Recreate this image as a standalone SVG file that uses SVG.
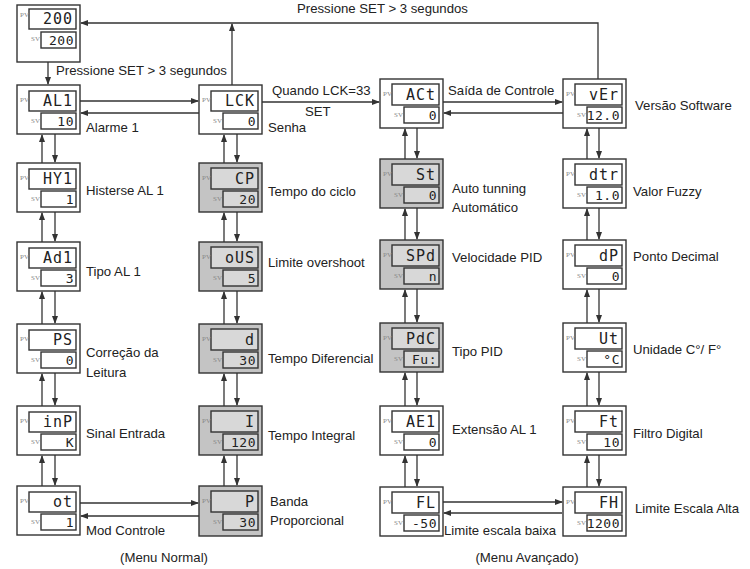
<svg xmlns="http://www.w3.org/2000/svg" width="750" height="569" viewBox="0 0 750 569">
<defs>
<style>
.box{fill:#fff;stroke:#333;stroke-width:1.4}
.gray .box{fill:#c4c4c4}
.disp{fill:#fff;stroke:#333;stroke-width:1.4}
.gray .disp{fill:#d8d8d8}
.tag{font-family:"Liberation Serif",serif;font-size:7px;fill:#888}
.seg{font-family:"DejaVu Sans Mono",monospace;font-size:15px;fill:#222;text-anchor:end;letter-spacing:1px}
.segs{font-family:"DejaVu Sans Mono",monospace;font-size:13px;fill:#222;text-anchor:end;letter-spacing:0.5px}
.t{font-family:"Liberation Sans",Arial,sans-serif;font-size:13.2px;fill:#222}
.tc{font-family:"Liberation Sans",Arial,sans-serif;font-size:13.2px;fill:#222;text-anchor:middle}
.c{fill:none;stroke:#333;stroke-width:1.3}
</style>
<marker id="ah" markerWidth="8" markerHeight="6" refX="7" refY="3" orient="auto" markerUnits="userSpaceOnUse">
<path d="M0,0 L8,3 L0,6 z" fill="#333"/>
</marker>
</defs>
<rect width="750" height="569" fill="#fff"/>

<g id="connectors">
<path class="c" d="M48 62 V84" marker-end="url(#ah)"/>
<path class="c" d="M598 79 V23 H81" marker-end="url(#ah)"/>
<path class="c" d="M232 85 V24" marker-end="url(#ah)"/>
<path class="c" d="M80 101 H198" marker-end="url(#ah)"/>
<path class="c" d="M199 113 H81" marker-end="url(#ah)"/>
<path class="c" d="M262 102 H379" marker-end="url(#ah)"/>
<path class="c" d="M443 102 H562" marker-end="url(#ah)"/>
<path class="c" d="M563 113 H444" marker-end="url(#ah)"/>
<path class="c" d="M80 503 H198" marker-end="url(#ah)"/>
<path class="c" d="M199 516 H81" marker-end="url(#ah)"/>
<path class="c" d="M443 502 H562" marker-end="url(#ah)"/>
<path class="c" d="M562 513 H444" marker-end="url(#ah)"/>
<path class="c" d="M42 163 V135" marker-end="url(#ah)"/><path class="c" d="M55 134 V162" marker-end="url(#ah)"/>
<path class="c" d="M42 242 V213" marker-end="url(#ah)"/><path class="c" d="M55 212 V241" marker-end="url(#ah)"/>
<path class="c" d="M42 324 V292" marker-end="url(#ah)"/><path class="c" d="M55 291 V323" marker-end="url(#ah)"/>
<path class="c" d="M42 406 V374" marker-end="url(#ah)"/><path class="c" d="M55 373 V405" marker-end="url(#ah)"/>
<path class="c" d="M42 486 V456" marker-end="url(#ah)"/><path class="c" d="M55 455 V485" marker-end="url(#ah)"/>
<path class="c" d="M224 163 V135" marker-end="url(#ah)"/><path class="c" d="M237 134 V162" marker-end="url(#ah)"/>
<path class="c" d="M224 242 V213" marker-end="url(#ah)"/><path class="c" d="M237 212 V241" marker-end="url(#ah)"/>
<path class="c" d="M224 324 V292" marker-end="url(#ah)"/><path class="c" d="M237 291 V323" marker-end="url(#ah)"/>
<path class="c" d="M224 406 V374" marker-end="url(#ah)"/><path class="c" d="M237 373 V405" marker-end="url(#ah)"/>
<path class="c" d="M224 486 V456" marker-end="url(#ah)"/><path class="c" d="M237 455 V485" marker-end="url(#ah)"/>
<path class="c" d="M405 159 V129" marker-end="url(#ah)"/><path class="c" d="M417 128 V158" marker-end="url(#ah)"/>
<path class="c" d="M405 240 V209" marker-end="url(#ah)"/><path class="c" d="M417 208 V239" marker-end="url(#ah)"/>
<path class="c" d="M405 323 V290" marker-end="url(#ah)"/><path class="c" d="M417 289 V322" marker-end="url(#ah)"/>
<path class="c" d="M405 406 V373" marker-end="url(#ah)"/><path class="c" d="M417 372 V405" marker-end="url(#ah)"/>
<path class="c" d="M405 487 V456" marker-end="url(#ah)"/><path class="c" d="M417 455 V486" marker-end="url(#ah)"/>
<path class="c" d="M587 159 V129" marker-end="url(#ah)"/><path class="c" d="M599 128 V158" marker-end="url(#ah)"/>
<path class="c" d="M587 240 V209" marker-end="url(#ah)"/><path class="c" d="M599 208 V239" marker-end="url(#ah)"/>
<path class="c" d="M587 323 V290" marker-end="url(#ah)"/><path class="c" d="M599 289 V322" marker-end="url(#ah)"/>
<path class="c" d="M587 406 V373" marker-end="url(#ah)"/><path class="c" d="M599 372 V405" marker-end="url(#ah)"/>
<path class="c" d="M587 487 V456" marker-end="url(#ah)"/><path class="c" d="M599 455 V486" marker-end="url(#ah)"/>
</g>

<g id="n-top" transform="translate(17,5)">
<rect class="box" width="63" height="57"/>
<rect class="disp" x="12" y="4" width="47" height="20"/><rect class="disp" x="24" y="27" width="35" height="16"/>
<text class="tag" x="3" y="12">PV</text><text class="tag" x="14" y="36">SV</text>
<text class="seg" x="56" y="19">200</text><text class="segs" x="57" y="40">200</text>
</g>

<g id="n-AL1" transform="translate(17,85)">
<rect class="box" width="63" height="49"/>
<rect class="disp" x="12" y="6" width="47" height="20"/><rect class="disp" x="24" y="28" width="35" height="16"/>
<text class="tag" x="3" y="17">PV</text><text class="tag" x="14" y="38">SV</text>
<text class="seg" x="56" y="21">AL1</text><text class="segs" x="57" y="41">10</text>
</g>
<g id="n-HY1" transform="translate(17,163)">
<rect class="box" width="63" height="49"/>
<rect class="disp" x="12" y="6" width="47" height="20"/><rect class="disp" x="24" y="28" width="35" height="16"/>
<text class="tag" x="3" y="17">PV</text><text class="tag" x="14" y="38">SV</text>
<text class="seg" x="56" y="21">HY1</text><text class="segs" x="57" y="41">1</text>
</g>
<g id="n-Ad1" transform="translate(17,242)">
<rect class="box" width="63" height="49"/>
<rect class="disp" x="12" y="6" width="47" height="20"/><rect class="disp" x="24" y="28" width="35" height="16"/>
<text class="tag" x="3" y="17">PV</text><text class="tag" x="14" y="38">SV</text>
<text class="seg" x="56" y="21">Ad1</text><text class="segs" x="57" y="41">3</text>
</g>
<g id="n-PS" transform="translate(17,324)">
<rect class="box" width="63" height="49"/>
<rect class="disp" x="12" y="6" width="47" height="20"/><rect class="disp" x="24" y="28" width="35" height="16"/>
<text class="tag" x="3" y="17">PV</text><text class="tag" x="14" y="38">SV</text>
<text class="seg" x="56" y="21">PS</text><text class="segs" x="57" y="41">0</text>
</g>
<g id="n-inP" transform="translate(17,406)">
<rect class="box" width="63" height="49"/>
<rect class="disp" x="12" y="6" width="47" height="20"/><rect class="disp" x="24" y="28" width="35" height="16"/>
<text class="tag" x="3" y="17">PV</text><text class="tag" x="14" y="38">SV</text>
<text class="seg" x="56" y="21">inP</text><text class="segs" x="57" y="41">K</text>
</g>
<g id="n-ot" transform="translate(17,486)">
<rect class="box" width="63" height="49"/>
<rect class="disp" x="12" y="6" width="47" height="20"/><rect class="disp" x="24" y="28" width="35" height="16"/>
<text class="tag" x="3" y="17">PV</text><text class="tag" x="14" y="38">SV</text>
<text class="seg" x="56" y="21">ot</text><text class="segs" x="57" y="41">1</text>
</g>

<g id="n-LCK" transform="translate(199,85)">
<rect class="box" width="63" height="49"/>
<rect class="disp" x="12" y="6" width="47" height="20"/><rect class="disp" x="24" y="28" width="35" height="16"/>
<text class="tag" x="3" y="17">PV</text><text class="tag" x="14" y="38">SV</text>
<text class="seg" x="56" y="21">LCK</text><text class="segs" x="57" y="41">0</text>
</g>
<g id="n-CP" class="gray" transform="translate(199,163)">
<rect class="box" width="63" height="49"/>
<rect class="disp" x="12" y="5" width="47" height="21"/><rect class="disp" x="24" y="28" width="35" height="16"/>
<text class="tag" x="3" y="17">PV</text><text class="tag" x="14" y="38">SV</text>
<text class="seg" x="56" y="21">CP</text><text class="segs" x="57" y="41">20</text>
</g>
<g id="n-oUS" class="gray" transform="translate(199,242)">
<rect class="box" width="63" height="49"/>
<rect class="disp" x="12" y="5" width="47" height="21"/><rect class="disp" x="24" y="28" width="35" height="16"/>
<text class="tag" x="3" y="17">PV</text><text class="tag" x="14" y="38">SV</text>
<text class="seg" x="56" y="21">oUS</text><text class="segs" x="57" y="41">5</text>
</g>
<g id="n-d" class="gray" transform="translate(199,324)">
<rect class="box" width="63" height="49"/>
<rect class="disp" x="12" y="5" width="47" height="21"/><rect class="disp" x="24" y="28" width="35" height="16"/>
<text class="tag" x="3" y="17">PV</text><text class="tag" x="14" y="38">SV</text>
<text class="seg" x="56" y="21">d</text><text class="segs" x="57" y="41">30</text>
</g>
<g id="n-I" class="gray" transform="translate(199,406)">
<rect class="box" width="63" height="49"/>
<rect class="disp" x="12" y="5" width="47" height="21"/><rect class="disp" x="24" y="28" width="35" height="16"/>
<text class="tag" x="3" y="17">PV</text><text class="tag" x="14" y="38">SV</text>
<text class="seg" x="56" y="21">I</text><text class="segs" x="57" y="41">120</text>
</g>
<g id="n-P" class="gray" transform="translate(199,486)">
<rect class="box" width="63" height="50"/>
<rect class="disp" x="12" y="5" width="47" height="21"/><rect class="disp" x="24" y="28" width="35" height="16"/>
<text class="tag" x="3" y="17">PV</text><text class="tag" x="14" y="38">SV</text>
<text class="seg" x="56" y="21">P</text><text class="segs" x="57" y="41">30</text>
</g>

<g id="n-ACt" transform="translate(380,79)">
<rect class="box" width="63" height="49"/>
<rect class="disp" x="12" y="5" width="47" height="21"/><rect class="disp" x="24" y="28" width="35" height="16"/>
<text class="tag" x="3" y="17">PV</text><text class="tag" x="14" y="38">SV</text>
<text class="seg" x="56" y="21">ACt</text><text class="segs" x="57" y="41">0</text>
</g>
<g id="n-St" class="gray" transform="translate(380,159)">
<rect class="box" width="63" height="49"/>
<rect class="disp" x="12" y="5" width="47" height="21"/><rect class="disp" x="24" y="28" width="35" height="16"/>
<text class="tag" x="3" y="17">PV</text><text class="tag" x="14" y="38">SV</text>
<text class="seg" x="56" y="21">St</text><text class="segs" x="57" y="41">0</text>
</g>
<g id="n-SPd" class="gray" transform="translate(380,240)">
<rect class="box" width="63" height="49"/>
<rect class="disp" x="12" y="5" width="47" height="21"/><rect class="disp" x="24" y="28" width="35" height="16"/>
<text class="tag" x="3" y="17">PV</text><text class="tag" x="14" y="38">SV</text>
<text class="seg" x="56" y="21">SPd</text><text class="segs" x="57" y="41">n</text>
</g>
<g id="n-PdC" class="gray" transform="translate(380,323)">
<rect class="box" width="63" height="49"/>
<rect class="disp" x="12" y="5" width="47" height="21"/><rect class="disp" x="24" y="28" width="35" height="16"/>
<text class="tag" x="3" y="17">PV</text><text class="tag" x="14" y="38">SV</text>
<text class="seg" x="56" y="21">PdC</text><text class="segs" x="57" y="41">Fu:</text>
</g>
<g id="n-AE1" transform="translate(380,406)">
<rect class="box" width="63" height="49"/>
<rect class="disp" x="12" y="5" width="47" height="21"/><rect class="disp" x="24" y="28" width="35" height="16"/>
<text class="tag" x="3" y="17">PV</text><text class="tag" x="14" y="38">SV</text>
<text class="seg" x="56" y="21">AE1</text><text class="segs" x="57" y="41">0</text>
</g>
<g id="n-FL" transform="translate(380,487)">
<rect class="box" width="63" height="49"/>
<rect class="disp" x="12" y="5" width="47" height="21"/><rect class="disp" x="24" y="28" width="35" height="16"/>
<text class="tag" x="3" y="17">PV</text><text class="tag" x="14" y="38">SV</text>
<text class="seg" x="56" y="21">FL</text><text class="segs" x="57" y="41">-50</text>
</g>

<g id="n-vEr" transform="translate(563,79)">
<rect class="box" width="63" height="49"/>
<rect class="disp" x="12" y="5" width="47" height="21"/><rect class="disp" x="24" y="28" width="35" height="16"/>
<text class="tag" x="3" y="17">PV</text><text class="tag" x="14" y="38">SV</text>
<text class="seg" x="56" y="21">vEr</text><text class="segs" x="57" y="41">12.0</text>
</g>
<g id="n-dtr" transform="translate(563,159)">
<rect class="box" width="63" height="49"/>
<rect class="disp" x="12" y="5" width="47" height="21"/><rect class="disp" x="24" y="28" width="35" height="16"/>
<text class="tag" x="3" y="17">PV</text><text class="tag" x="14" y="38">SV</text>
<text class="seg" x="56" y="21">dtr</text><text class="segs" x="57" y="41">1.0</text>
</g>
<g id="n-dP" transform="translate(563,240)">
<rect class="box" width="63" height="49"/>
<rect class="disp" x="12" y="5" width="47" height="21"/><rect class="disp" x="24" y="28" width="35" height="16"/>
<text class="tag" x="3" y="17">PV</text><text class="tag" x="14" y="38">SV</text>
<text class="seg" x="56" y="21">dP</text><text class="segs" x="57" y="41">0</text>
</g>
<g id="n-Ut" transform="translate(563,323)">
<rect class="box" width="63" height="49"/>
<rect class="disp" x="12" y="5" width="47" height="21"/><rect class="disp" x="24" y="28" width="35" height="16"/>
<text class="tag" x="3" y="17">PV</text><text class="tag" x="14" y="38">SV</text>
<text class="seg" x="56" y="21">Ut</text><text class="segs" x="57" y="41">°C</text>
</g>
<g id="n-Ft" transform="translate(563,406)">
<rect class="box" width="63" height="49"/>
<rect class="disp" x="12" y="5" width="47" height="21"/><rect class="disp" x="24" y="28" width="35" height="16"/>
<text class="tag" x="3" y="17">PV</text><text class="tag" x="14" y="38">SV</text>
<text class="seg" x="56" y="21">Ft</text><text class="segs" x="57" y="41">10</text>
</g>
<g id="n-FH" transform="translate(563,487)">
<rect class="box" width="63" height="49"/>
<rect class="disp" x="12" y="5" width="47" height="21"/><rect class="disp" x="24" y="28" width="35" height="16"/>
<text class="tag" x="3" y="17">PV</text><text class="tag" x="14" y="38">SV</text>
<text class="seg" x="56" y="21">FH</text><text class="segs" x="57" y="41">1200</text>
</g>

<g id="labels">
<text class="t" x="297" y="13">Pressione SET &gt; 3 segundos</text>
<text class="t" x="56" y="75">Pressione SET &gt; 3 segundos</text>
<text class="t" x="272" y="95">Quando LCK=33</text>
<text class="t" x="305" y="116">SET</text>
<text class="t" x="448" y="95">Saída de Controle</text>
<text class="t" x="635" y="110">Versão Software</text>
<text class="t" x="86" y="132">Alarme 1</text>
<text class="t" x="268" y="132">Senha</text>
<text class="t" x="86" y="195">Histerse AL 1</text>
<text class="t" x="268" y="196">Tempo do ciclo</text>
<text class="t" x="452" y="193">Auto tunning</text>
<text class="t" x="452" y="212">Automático</text>
<text class="t" x="633" y="196">Valor Fuzzy</text>
<text class="t" x="86" y="276">Tipo AL 1</text>
<text class="t" x="268" y="267">Limite overshoot</text>
<text class="t" x="452" y="262">Velocidade PID</text>
<text class="t" x="633" y="261">Ponto Decimal</text>
<text class="t" x="86" y="357">Correção da</text>
<text class="t" x="86" y="377">Leitura</text>
<text class="t" x="268" y="363">Tempo Diferencial</text>
<text class="t" x="452" y="356">Tipo PID</text>
<text class="t" x="633" y="354">Unidade C°/ F°</text>
<text class="t" x="86" y="438">Sinal Entrada</text>
<text class="t" x="268" y="440">Tempo Integral</text>
<text class="t" x="452" y="434">Extensão AL 1</text>
<text class="t" x="633" y="438">Filtro Digital</text>
<text class="t" x="86" y="535">Mod Controle</text>
<text class="t" x="270" y="506">Banda</text>
<text class="t" x="270" y="525">Proporcional</text>
<text class="t" x="444" y="535">Limite escala baixa</text>
<text class="t" x="635" y="513">Limite Escala Alta</text>
<text class="tc" x="164" y="562">(Menu Normal)</text>
<text class="tc" x="527" y="562">(Menu Avançado)</text>
</g>
</svg>
